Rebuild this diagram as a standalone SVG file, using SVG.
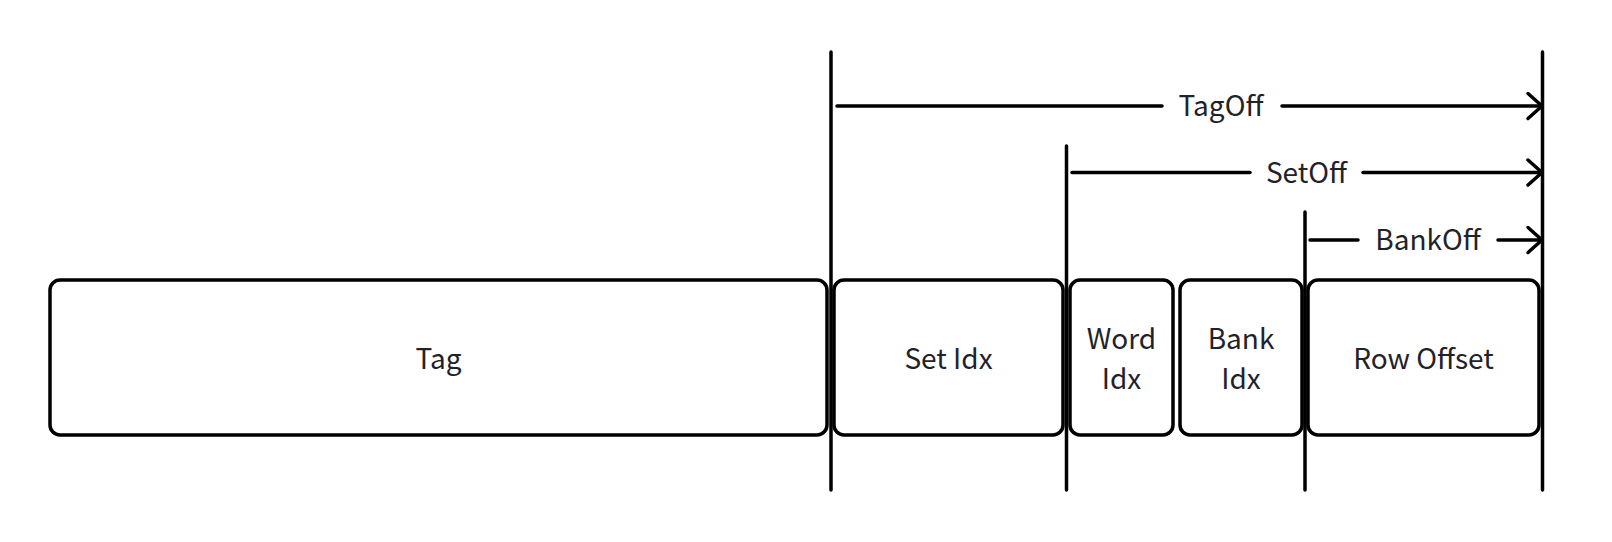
<svg xmlns="http://www.w3.org/2000/svg" width="1612" height="542" viewBox="0 0 1612 542">
  <defs>
    <marker id="chev" markerUnits="userSpaceOnUse" markerWidth="20" markerHeight="30" viewBox="-16 -15 20 30" refX="1" refY="0" orient="auto">
      <path d="M-13,-12.5 L1,0 L-13,12.5" fill="none" stroke="#000" stroke-width="3.5" stroke-linecap="round" stroke-linejoin="round"/>
    </marker>
  </defs>
  <style>
    .box { fill: #fff; stroke: #000; stroke-width: 3.5; }
    .lbl { font-family: "Noto Sans CJK SC", "Noto Sans", sans-serif; font-size: 28px; fill: #1f2329; text-anchor: middle; }
    .vl { stroke: #000; stroke-width: 3.5; stroke-linecap: round; fill: none; }
    .ar { stroke: #000; stroke-width: 3.5; stroke-linecap: round; fill: none; }
  </style>
  <rect width="1612" height="542" fill="#fff"/>
  <g id="tag">
    <rect class="box" x="50" y="280" width="777" height="155" rx="10"/>
    <text class="lbl" x="438.5" y="369">Tag</text>
  </g>
  <g id="set-idx">
    <rect class="box" x="834" y="280" width="229" height="155" rx="10"/>
    <text class="lbl" x="948.5" y="369">Set Idx</text>
  </g>
  <g id="word-idx">
    <rect class="box" x="1070" y="280" width="103" height="155" rx="10"/>
    <text class="lbl" x="1121.5" y="349">Word</text>
    <text class="lbl" x="1121.5" y="389">Idx</text>
  </g>
  <g id="bank-idx">
    <rect class="box" x="1180" y="280" width="122" height="155" rx="10"/>
    <text class="lbl" x="1241" y="349">Bank</text>
    <text class="lbl" x="1241" y="389">Idx</text>
  </g>
  <g id="row-offset">
    <rect class="box" x="1308" y="280" width="231" height="155" rx="10"/>
    <text class="lbl" x="1423.5" y="369">Row Offset</text>
  </g>
  <g id="connectors">
    <line class="vl" x1="831" y1="52" x2="831" y2="490"/>
    <line class="vl" x1="1066.5" y1="146" x2="1066.5" y2="490"/>
    <line class="vl" x1="1305" y1="212" x2="1305" y2="490"/>
    <line class="vl" x1="1542.5" y1="52" x2="1542.5" y2="490"/>
    <line class="ar" x1="837" y1="106" x2="1162" y2="106"/>
    <line class="ar" x1="1282" y1="106" x2="1542" y2="106" marker-end="url(#chev)"/>
    <line class="ar" x1="1072" y1="172.5" x2="1250" y2="172.5"/>
    <line class="ar" x1="1363" y1="172.5" x2="1542" y2="172.5" marker-end="url(#chev)"/>
    <line class="ar" x1="1310" y1="240" x2="1358" y2="240"/>
    <line class="ar" x1="1498" y1="240" x2="1542" y2="240" marker-end="url(#chev)"/>
  </g>
  <g id="labels">
    <text class="lbl" x="1221" y="116">TagOff</text>
    <text class="lbl" x="1306.5" y="182.5">SetOff</text>
    <text class="lbl" x="1428" y="250">BankOff</text>
  </g>
</svg>
